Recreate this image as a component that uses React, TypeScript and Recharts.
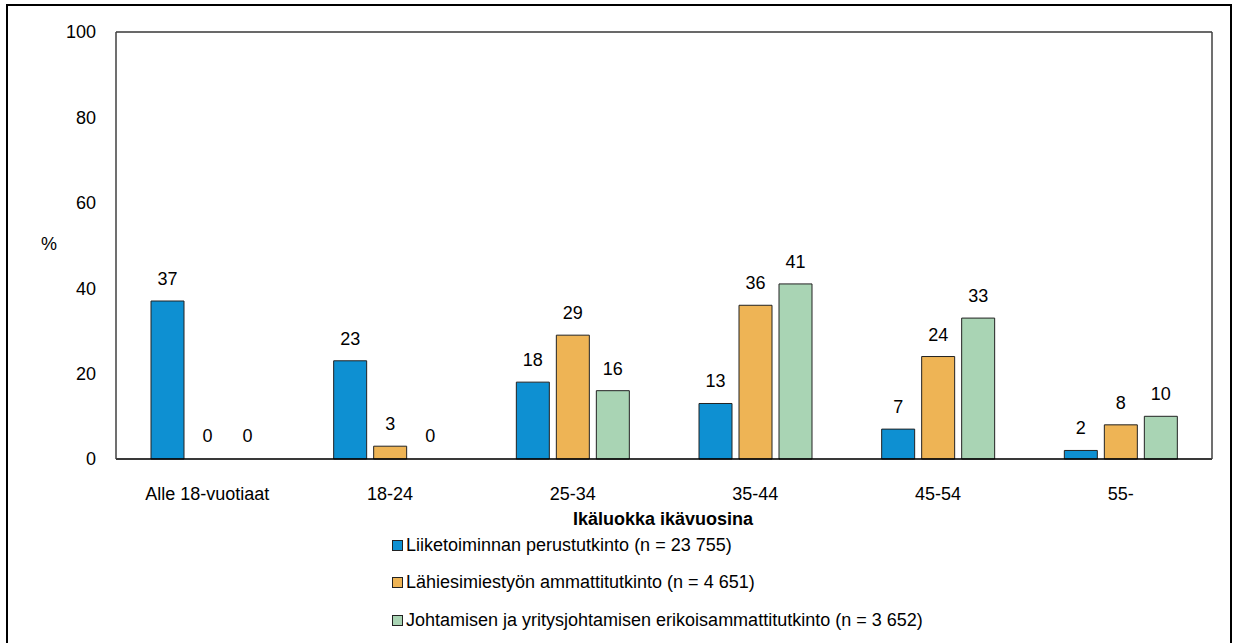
import React from "react";
import { BarChart, Bar, XAxis, YAxis, CartesianGrid, LabelList, ReferenceLine, Cell } from "recharts";

const categories = ["Alle 18-vuotiaat", "18-24", "25-34", "35-44", "45-54", "55-"];
const perustutkinto = [37, 23, 18, 13, 7, 2];
const lahiesimies = [0, 3, 29, 36, 24, 8];
const johtaminen = [0, 0, 16, 41, 33, 10];
const yTicks = [0, 20, 40, 60, 80, 100];
const seriesNames = [
  "Liiketoiminnan perustutkinto (n = 23 755)",
  "Lähiesimiestyön ammattitutkinto (n = 4 651)",
  "Johtamisen ja yritysjohtamisen erikoisammattitutkinto (n = 3 652)",
];
const colors = ["#0E90D2", "#EEB455", "#A9D4B4"];
const xTitle = "Ikäluokka ikävuosina";
const seriesValues = [perustutkinto, lahiesimies, johtaminen];

const data = categories.map((c, i) => ({
  name: c,
  a: perustutkinto[i],
  b: lahiesimies[i],
  c: johtaminen[i],
}));

const FONT = "'Liberation Sans', Arial, sans-serif";
const FS = 18;

const renderLabel = (props: any) => {
  const { x, y, width, value } = props;
  if (value === undefined || value === null) return null;
  return (
    <text
      x={Number(x) + Number(width) / 2}
      y={Number(y) - 16}
      textAnchor="middle"
      fill="#000"
      fontSize={FS}
      fontFamily={FONT}
    >
      {String(value)}
    </text>
  );
};

export default function App() {
  const keys = ["a", "b", "c"];
  return (
    <div style={{ position: "absolute", left: 0, top: 0, width: 1239, height: 643, overflow: "hidden", background: "#fff", fontFamily: FONT }}>
      <div style={{ position: "absolute", left: 6, top: 4, width: 1226, height: 660, border: "2px solid #000", boxSizing: "border-box" }} />
      <BarChart
        width={1239}
        height={643}
        data={data}
        margin={{ top: 32, right: 26, left: 56, bottom: 154 }}
        barCategoryGap="19%"
        barGap={7}
        style={{ position: "absolute", left: 0, top: 0 }}
      >
        <CartesianGrid horizontal vertical={false} stroke="#d9d9d9" strokeWidth={1.5} />
        <XAxis
          dataKey="name"
          axisLine={{ stroke: "#000", strokeWidth: 1.5 }}
          tickLine={false}
          tickMargin={22}
          height={30}
          interval={0}
          tick={{ fill: "#000", fontSize: FS, fontFamily: FONT }}
        />
        <YAxis
          yAxisId="l"
          domain={[0, 100]}
          ticks={yTicks}
          width={60}
          axisLine={{ stroke: "#404040", strokeWidth: 1.5 }}
          tickLine={false}
          tickSize={0}
          tickMargin={20}
          tick={{ fill: "#000", fontSize: FS, fontFamily: FONT }}
        />
        <YAxis yAxisId="r" orientation="right" domain={[0, 100]} width={1} tick={false} tickLine={false} axisLine={{ stroke: "#404040", strokeWidth: 1.5 }} />
        <ReferenceLine yAxisId="l" y={100} stroke="#404040" strokeWidth={1.5} />
        {keys.map((k, i) => (
          <Bar key={k} yAxisId="l" dataKey={k} fill={colors[i]} stroke="#222" strokeWidth={1} barSize={33} minPointSize={1} isAnimationActive={false}>
            {seriesValues[i].map((v, j) => (
              <Cell key={j} fill={v === 0 ? "none" : colors[i]} stroke={v === 0 ? "none" : "#222"} />
            ))}
            <LabelList dataKey={k} content={renderLabel} />
          </Bar>
        ))}
      </BarChart>
      <div style={{ position: "absolute", left: 41, top: 234, fontSize: FS, color: "#000" }}>%</div>
      <div style={{ position: "absolute", left: 0, width: 1326, top: 509, textAlign: "center", fontSize: FS, fontWeight: "bold", color: "#000" }}>{xTitle}</div>
      {seriesNames.map((n, i) => (
        <div key={n} style={{ position: "absolute", left: 392, top: 534 + i * 37.5, height: 22, display: "flex", alignItems: "center", fontSize: FS, color: "#000", whiteSpace: "nowrap" }}>
          <span style={{ display: "inline-block", width: 11, height: 11, background: colors[i], border: "1px solid #222", marginRight: 3, boxSizing: "border-box" }} />
          {n}
        </div>
      ))}
    </div>
  );
}
